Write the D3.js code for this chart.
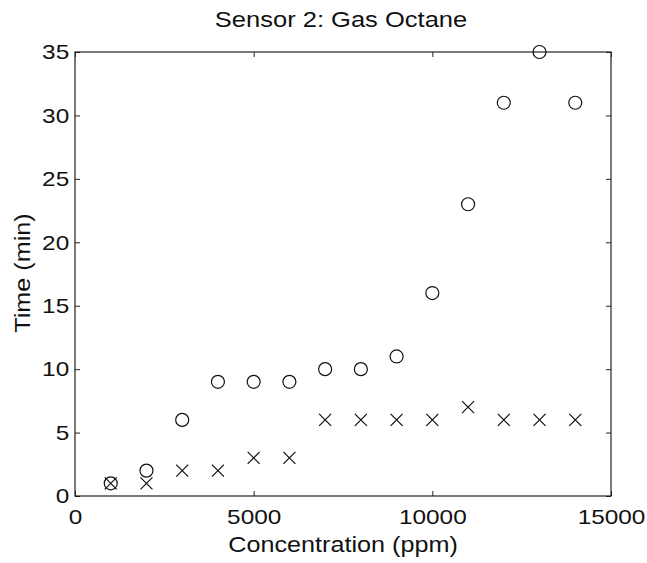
<!DOCTYPE html>
<html>
<head>
<meta charset="utf-8">
<script src="https://cdn.jsdelivr.net/npm/d3@7"></script>
<style>
  body { margin: 0; background: #fff; }
  text { font-family: "Liberation Sans", Arial, sans-serif; fill: #111; }
</style>
</head>
<body>
<div id="chart"></div>
<script>
var concentration = [1000, 2000, 3000, 4000, 5000, 6000, 7000, 8000, 9000, 10000, 11000, 12000, 13000, 14000];
var timeCircle = [1, 2, 6, 9, 9, 9, 10, 10, 11, 16, 23, 31, 35, 31];
var timeCross = [1, 1, 2, 2, 3, 3, 6, 6, 6, 6, 7, 6, 6, 6];
var xTicks = [0, 5000, 10000, 15000];
var yTicks = [0, 5, 10, 15, 20, 25, 30, 35];

var W = 647, H = 563,
    margin = {top: 52, right: 36, bottom: 67, left: 75},
    width = 611 - margin.left,
    height = 496 - margin.top,
    stretch = 1.16;   // the original type is a bit wider than Arial

var svg = d3.select("#chart").append("svg").attr("width", W).attr("height", H);
svg.append("rect").attr("width", W).attr("height", H).attr("fill", "#fff");

var g = svg.append("g").attr("transform", "translate(" + margin.left + "," + margin.top + ")");

var x = d3.scaleLinear().domain([0, 15000]).range([0, width]);
var y = d3.scaleLinear().domain([0, 35]).range([height, 0]);

// box
g.append("rect").attr("width", width).attr("height", height)
  .attr("fill", "none").attr("stroke", "#222").attr("stroke-width", 1.2);

function styleAxis(sel, labels) {
  sel.select(".domain").remove();
  sel.selectAll(".tick line").attr("stroke", "#222");
  if (!labels) sel.selectAll(".tick text").remove();
  else sel.selectAll(".tick text").attr("font-size", 21).attr("fill", "#111")
    .attr("transform", "scale(" + stretch + ",1)");
}

g.append("g").attr("transform", "translate(0," + height + ")")
  .call(d3.axisBottom(x).tickValues(xTicks).tickSize(-5).tickPadding(13).tickFormat(d3.format("d")))
  .call(styleAxis, true);
g.append("g")
  .call(d3.axisTop(x).tickValues(xTicks).tickSize(-5))
  .call(styleAxis, false);
g.append("g")
  .call(d3.axisLeft(y).tickValues(yTicks).tickSize(-5).tickPadding(5))
  .call(styleAxis, true);
g.append("g").attr("transform", "translate(" + width + ",0)")
  .call(d3.axisRight(y).tickValues(yTicks).tickSize(-5))
  .call(styleAxis, false);

// circles
g.append("g").selectAll("circle")
  .data(concentration.map(function(c, i) { return [c, timeCircle[i]]; }))
  .enter().append("circle")
  .attr("cx", function(d) { return x(d[0]); })
  .attr("cy", function(d) { return y(d[1]); })
  .attr("r", 6.5)
  .attr("fill", "none").attr("stroke", "#111").attr("stroke-width", 1.2);

// crosses
var s = 6;
g.append("g").selectAll("path")
  .data(concentration.map(function(c, i) { return [c, timeCross[i]]; }))
  .enter().append("path")
  .attr("d", function(d) {
    var cx = x(d[0]), cy = y(d[1]);
    return "M" + (cx - s) + "," + (cy - s) + "L" + (cx + s) + "," + (cy + s) +
           "M" + (cx - s) + "," + (cy + s) + "L" + (cx + s) + "," + (cy - s);
  })
  .attr("fill", "none").attr("stroke", "#111").attr("stroke-width", 1.2);

svg.append("text")
  .attr("transform", "translate(" + (margin.left + width / 2 - 2) + ",27) scale(" + stretch + ",1)")
  .attr("text-anchor", "middle").attr("font-size", 22).text("Sensor 2: Gas Octane");
svg.append("text")
  .attr("transform", "translate(" + (margin.left + width / 2) + ",552) scale(1.12,1)")
  .attr("text-anchor", "middle").attr("font-size", 22.5).text("Concentration (ppm)");
svg.append("text")
  .attr("transform", "translate(30," + (margin.top + height / 2 - 1) + ") rotate(-90) scale(1.12,1)")
  .attr("text-anchor", "middle").attr("font-size", 22.5).text("Time (min)");
</script>
</body>
</html>
